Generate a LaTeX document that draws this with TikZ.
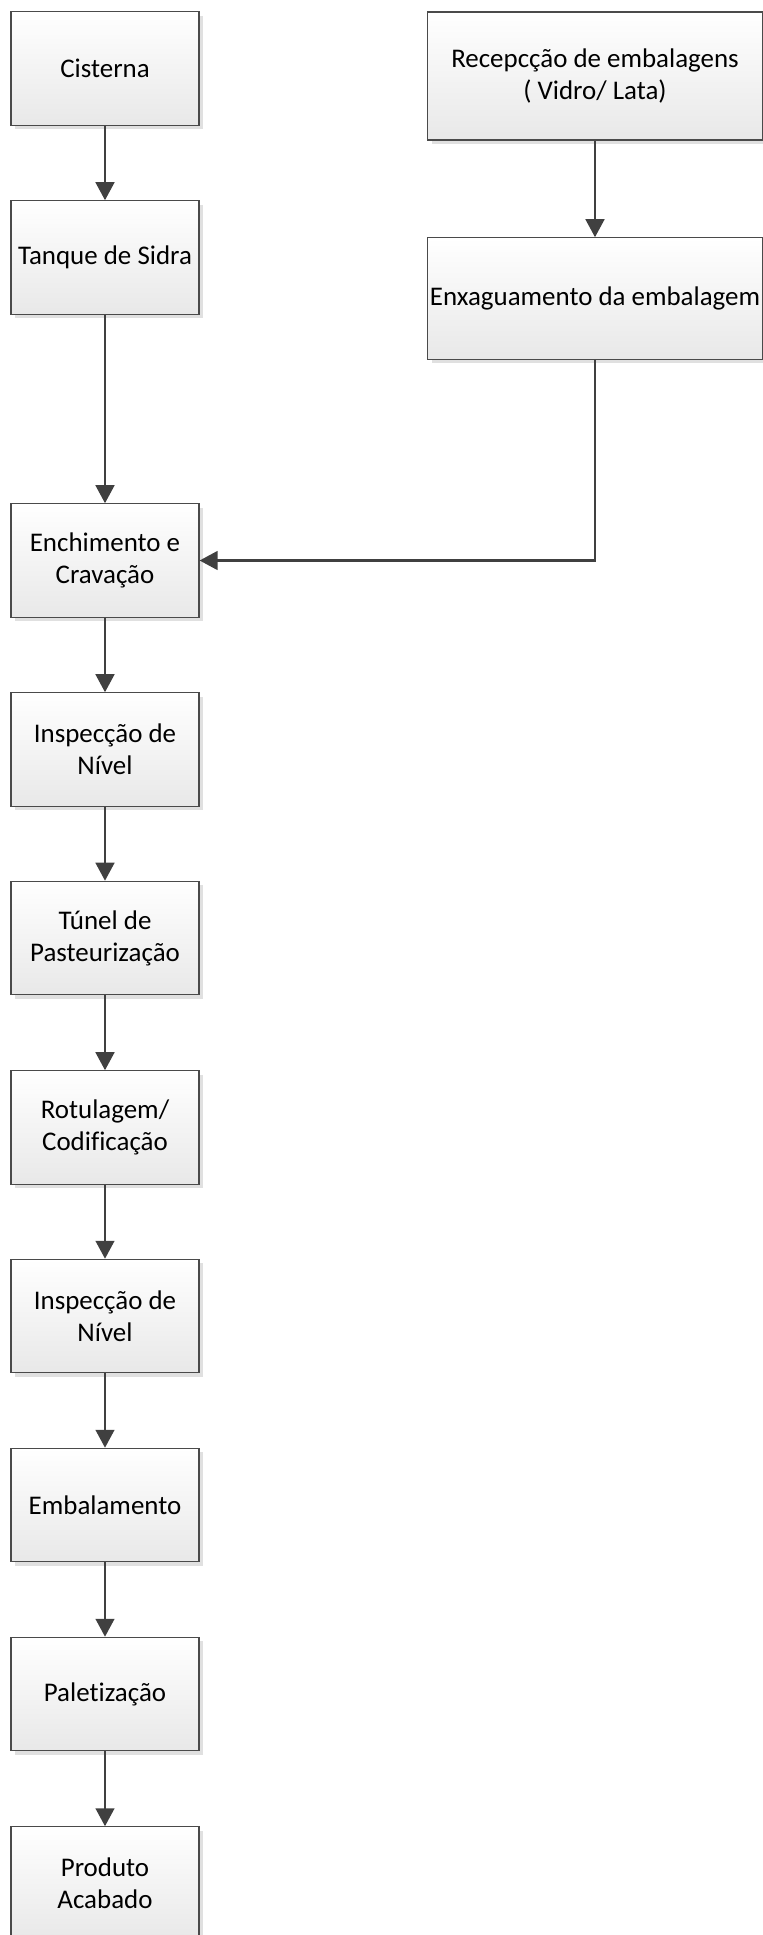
\documentclass[tikz,border=0pt]{standalone}
\usepackage{fontspec}
\setmainfont{Carlito}[Ligatures=NoCommon]
\usetikzlibrary{arrows.meta,shadows}
\definecolor{lineg}{HTML}{404040}
\definecolor{boxline}{HTML}{4A4A4A}
\tikzset{
  x=0.75pt, y=-0.75pt,
  procbox/.style={draw=boxline, line width=0.9pt, top color=white, bottom color=black!9,
    general shadow={fill=black!12, shadow xshift=3pt, shadow yshift=-3pt},
    align=center, inner sep=1pt,
    font=\fontsize{20.2}{24}\selectfont,
    minimum width=141pt, minimum height=85pt},
  widebox/.style={procbox, minimum width=251pt},
  flow/.style={draw=lineg, line width=1.9pt, -{Triangle[length=13.5pt,width=14pt]}}
}
\begin{document}
\begin{tikzpicture}
\useasboundingbox (0,0) rectangle (763,1935);
\node[procbox] (cis) at (105,68.5) {Cisterna};
\node[procbox] (tan) at (105,257.5) {Tanque de Sidra};
\node[procbox] (enc) at (105,560.5) {Enchimento e\\Cravação};
\node[procbox] (in1) at (105,749.5) {Inspecção de\\Nível};
\node[procbox] (tun) at (105,938) {Túnel de\\Pasteurização};
\node[procbox] (rot) at (105,1127.5) {Rotulagem/\\Codificação};
\node[procbox] (in2) at (105,1316) {Inspecção de\\Nível};
\node[procbox] (emb) at (105,1505) {Embalamento};
\node[procbox] (pal) at (105,1694) {Paletização};
\node[procbox] (pro) at (105,1883.5) {Produto\\Acabado};
\node[widebox, minimum height=96pt] (rec) at (595,76) {Recepcção de embalagens\\( Vidro/ Lata)};
\node[widebox, minimum height=91pt] (enx) at (595,298.5) {Enxaguamento da embalagem};
\coordinate (corner) at (enx.south |- enc.east);
\draw[flow] (cis) -- (tan);
\draw[flow] (tan) -- (enc);
\draw[flow] (enc) -- (in1);
\draw[flow] (in1) -- (tun);
\draw[flow] (tun) -- (rot);
\draw[flow] (rot) -- (in2);
\draw[flow] (in2) -- (emb);
\draw[flow] (emb) -- (pal);
\draw[flow] (pal) -- (pro);
\draw[flow] (rec) -- (enx);
\draw[flow] (enx.south) -- (corner) -- (enc.east);
\end{tikzpicture}
\end{document}
